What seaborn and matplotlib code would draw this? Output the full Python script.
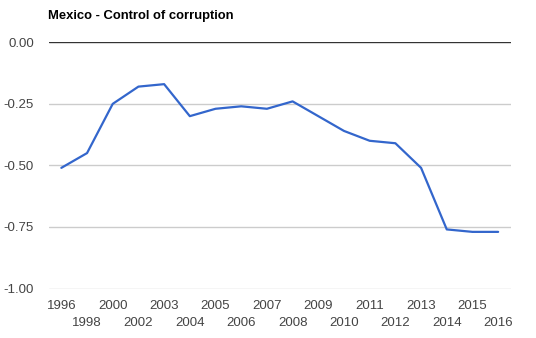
import matplotlib
matplotlib.use("Agg")
import matplotlib.pyplot as plt
import seaborn as sns
import pandas as pd

years = ["1996", "1998", "2000", "2002", "2003", "2004", "2005", "2006", "2007",
         "2008", "2009", "2010", "2011", "2012", "2013", "2014", "2015", "2016"]
values = [-0.51, -0.45, -0.25, -0.18, -0.17, -0.30, -0.27, -0.26, -0.27,
          -0.24, -0.30, -0.36, -0.40, -0.41, -0.51, -0.76, -0.77, -0.77]
y_ticks = [0.0, -0.25, -0.5, -0.75, -1.0]
y_tick_labels = ["0.00", "-0.25", "-0.50", "-0.75", "-1.00"]
title = "Mexico - Control of corruption"

sns.set_style("white")
plt.rcParams["font.family"] = ["Liberation Sans", "DejaVu Sans"]

df = pd.DataFrame({"year": years, "value": values})

W, H = 536, 338
L, R, T, B = 48.5, 511, 42.3, 288.5
fig = plt.figure(figsize=(W / 100, H / 100), dpi=100)
ax = fig.add_axes([L / W, 1 - B / H, (R - L) / W, (B - T) / H])

sns.lineplot(data=df, x="year", y="value", sort=False, ax=ax,
             color="#3366cc", linewidth=1.6)

ax.set_ylim(-1.0, 0.0)
ax.set_xlim(-0.5, len(years) - 0.5)
for t in y_ticks:
    if t == 0.0:
        ax.axhline(t, color="#333333", linewidth=1.0, zorder=3)
    else:
        ax.axhline(t, color="#cccccc", linewidth=1.0, zorder=0)

ax.set_yticks(y_ticks)
ax.set_yticklabels(y_tick_labels)

even_idx = list(range(0, len(years), 2))
odd_idx = list(range(1, len(years), 2))
ax.set_xticks(even_idx)
ax.set_xticklabels([years[i] for i in even_idx])
ax.set_xticks(odd_idx, minor=True)
ax.set_xticklabels([years[i] for i in odd_idx], minor=True)

ax.tick_params(axis="both", which="both", length=0, labelsize=9.5, colors="#444444")
ax.tick_params(axis="y", pad=10.4)
ax.tick_params(axis="x", which="major", pad=8)
ax.tick_params(axis="x", which="minor", pad=20.5)
ax.set_xlabel("")
ax.set_ylabel("")
for s in ax.spines.values():
    s.set_visible(False)

fig.text(L / W, 1 - 19 / H, title, fontsize=9.4, fontweight="bold",
         color="#000000", va="baseline", ha="left")

fig.savefig("out.png", dpi=100)
